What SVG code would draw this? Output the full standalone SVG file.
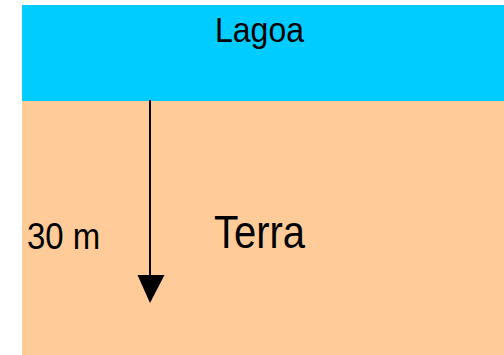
<svg xmlns="http://www.w3.org/2000/svg" width="504" height="355" viewBox="0 0 504 355">
<style>
.lbl{font-family:"Liberation Sans",Arial,sans-serif;fill:#000}
</style>
<rect width="504" height="355" fill="#fff"/>
<g id="lagoa">
<rect x="22" y="5" width="482" height="96" fill="#00CCFF"/>
<text class="lbl" font-size="32" transform="translate(215,42.3) scale(1,1.12)">Lagoa</text>
</g>
<g id="terra">
<rect x="22" y="101" width="482" height="254" fill="#FFCC99"/>
<text class="lbl" font-size="40" transform="translate(214,247.7) scale(1,1.16)">Terra</text>
</g>
<g id="connectors">
<line x1="150" y1="100" x2="150" y2="276" stroke="#000" stroke-width="2"/>
<polygon points="137.5,275 164.5,275 150,303" fill="#000"/>
<text class="lbl" font-size="33" transform="translate(27,249.3) scale(1,1.12)">30 m</text>
</g>
</svg>
